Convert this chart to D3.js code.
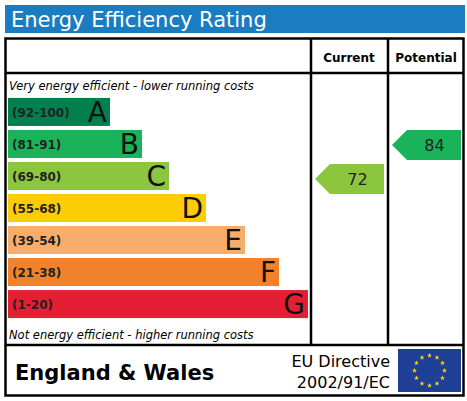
<!DOCTYPE html>
<html><head><meta charset="utf-8">
<script src="https://cdn.jsdelivr.net/npm/d3@7"></script>
<style>body{margin:0;background:#fff}text{font-family:Verdana,"DejaVu Sans",sans-serif}</style>
</head><body>
<script>
var bands = ["A","B","C","D","E","F","G"];
var ranges = ["(92-100)","(81-91)","(69-80)","(55-68)","(39-54)","(21-38)","(1-20)"];
var lows = [92,81,69,55,39,21,1];
var barEnds = [110,142,169,206,245,279,308];
var colors = ["#00804f","#1bb35a","#8cc63f","#fccc05","#f8ad6b","#f1822b","#e41e33"];
var current = 72, potential = 84;

var w = 467, h = 401;
var svg = d3.select("body").append("svg").attr("width", w).attr("height", h);

svg.append("rect").attr("x",5).attr("y",5).attr("width",460).attr("height",28).attr("fill","#1a7cc1");
svg.append("text").attr("x",11).attr("y",27).attr("fill","#fff").attr("font-size",21).text("Energy Efficiency Rating");

var box = svg.append("g").attr("fill","none").attr("stroke","#000").attr("stroke-width",2.5);
box.append("rect").attr("x",5.5).attr("y",38.5).attr("width",458).attr("height",357);
box.append("line").attr("x1",5).attr("x2",464).attr("y1",73).attr("y2",73);
box.append("line").attr("x1",5).attr("x2",464).attr("y1",345).attr("y2",345);
box.append("line").attr("x1",311).attr("x2",311).attr("y1",38).attr("y2",345);
box.append("line").attr("x1",388).attr("x2",388).attr("y1",38).attr("y2",345);

svg.append("text").attr("x",349).attr("y",62).attr("text-anchor","middle").attr("font-size",12).attr("font-weight","bold").text("Current");
svg.append("text").attr("x",426).attr("y",62).attr("text-anchor","middle").attr("font-size",12).attr("font-weight","bold").text("Potential");
svg.append("text").attr("x",9).attr("y",90).attr("font-size",11.5).attr("font-style","italic").text("Very energy efficient - lower running costs");
svg.append("text").attr("x",9).attr("y",339).attr("font-size",11.5).attr("font-style","italic").text("Not energy efficient - higher running costs");

var y = d3.scaleBand().domain(bands).range([96,320]).paddingInner(0.125).paddingOuter(0.06);
var x = d3.scaleLinear().domain([0,300]).range([8,308]);

var g = svg.selectAll("g.bar").data(bands).enter().append("g").attr("class","bar");
g.append("rect").attr("x",x(0)).attr("y",function(d){return y(d);})
  .attr("width",function(d,i){return x(barEnds[i]-8)-x(0);}).attr("height",y.bandwidth())
  .attr("fill",function(d,i){return colors[i];});
g.append("text").attr("x",12).attr("y",function(d){return y(d)+y.bandwidth()/2+5;})
  .attr("font-size",12).attr("font-weight","bold").attr("fill","#222").text(function(d,i){return ranges[i];});
g.append("text").attr("x",function(d,i){return barEnds[i]-3;}).attr("y",function(d){return y(d)+y.bandwidth()/2+10;})
  .attr("text-anchor","end").attr("font-size",28).attr("fill","#111").text(function(d){return d;});

function bandOf(v){ for (var i=0;i<lows.length;i++) if (v>=lows[i]) return i; return 6; }
function arrow(v, x0, x1, dy){
  var i = bandOf(v), t = y(bands[i]) - 1 + dy, b = t + y.bandwidth() + 2, m = (t+b)/2;
  svg.append("path").attr("d","M"+x0+","+m+"L"+(x0+15)+","+t+"H"+x1+"V"+b+"H"+(x0+15)+"Z").attr("fill",colors[i]);
  svg.append("text").attr("x",(x0+x1)/2+8).attr("y",m+6).attr("text-anchor","middle").attr("font-size",16).attr("fill","#222").text(v);
}
arrow(current,315,384,3);
arrow(potential,392,461,1);

svg.append("text").attr("x",15).attr("y",380).attr("font-size",21).attr("font-weight","bold").text("England & Wales");
svg.append("text").attr("x",390).attr("y",367).attr("text-anchor","end").attr("font-size",16).text("EU Directive");
svg.append("text").attr("x",390).attr("y",388).attr("text-anchor","end").attr("font-size",16).text("2002/91/EC");
svg.append("rect").attr("x",398).attr("y",349).attr("width",63).attr("height",43).attr("fill","#1f3f97");
var stars = d3.range(12).map(function(i){return i*Math.PI/6;});
svg.selectAll("path.star").data(stars).enter().append("path").attr("class","star")
  .attr("d",d3.symbol(d3.symbolStar,8))
  .attr("transform",function(a){return "translate("+(429.5+15*Math.sin(a))+","+(370.5-15*Math.cos(a))+")";})
  .attr("fill","#ffdd00");
</script>
</body></html>
